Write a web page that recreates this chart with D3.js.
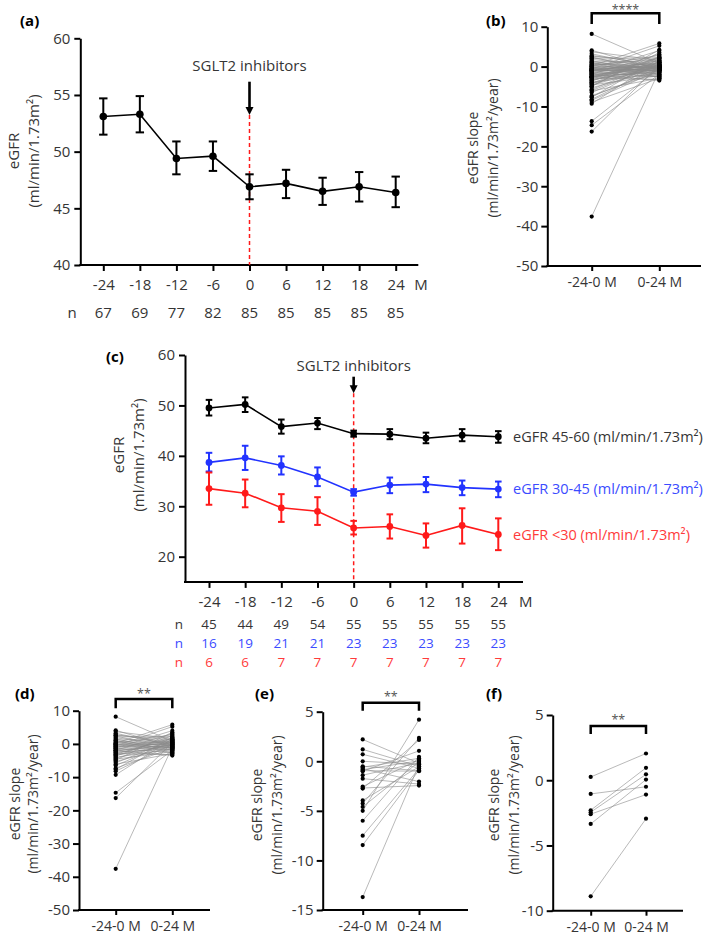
<!DOCTYPE html>
<html>
<head>
<meta charset="utf-8">
<script src="https://cdn.jsdelivr.net/npm/d3@7"></script>
<style>
  body { margin: 0; background: #fff; }
  svg { display: block; font-family: "Open Sans", "Noto Sans", sans-serif; }
</style>
</head>
<body>
<script>
// ---------------- DATA ----------------
const months = [-24, -18, -12, -6, 0, 6, 12, 18, 24];

// Panel (a): all patients
const aMean  = [53.1, 53.3, 49.4, 49.6, 46.9, 47.2, 46.5, 46.9, 46.4];
const aLower = [51.5, 51.7, 48.0, 48.3, 45.8, 45.9, 45.3, 45.6, 45.1];
const aUpper = [54.7, 54.9, 50.9, 50.9, 48.0, 48.4, 47.7, 48.2, 47.8];
const aN     = [67, 69, 77, 82, 85, 85, 85, 85, 85];

// Panel (c): by baseline eGFR group
const g45Mean  = [49.5, 50.2, 45.8, 46.5, 44.4, 44.3, 43.5, 44.1, 43.8];
const g45Lower = [48.0, 48.7, 44.4, 45.3, 43.8, 43.3, 42.5, 42.9, 42.6];
const g45Upper = [51.1, 51.6, 47.2, 47.5, 45.0, 45.3, 44.6, 45.3, 44.9];
const g30Mean  = [38.7, 39.6, 38.1, 35.8, 32.8, 34.2, 34.4, 33.7, 33.4];
const g30Lower = [36.9, 37.2, 36.3, 34.0, 32.1, 32.6, 32.8, 32.2, 31.8];
const g30Upper = [40.6, 42.0, 39.9, 37.7, 33.4, 35.7, 35.8, 35.1, 34.9];
const gLtMean  = [33.5, 32.6, 29.7, 29.0, 25.7, 26.0, 24.2, 26.2, 24.4];
const gLtLower = [30.3, 29.8, 26.9, 26.3, 24.4, 23.6, 21.8, 22.6, 21.3];
const gLtUpper = [36.7, 35.3, 32.4, 31.8, 27.1, 28.4, 26.6, 29.6, 27.6];
const n45 = [45, 44, 49, 54, 55, 55, 55, 55, 55];
const n30 = [16, 19, 21, 21, 23, 23, 23, 23, 23];
const nLt = [6, 6, 7, 7, 7, 7, 7, 7, 7];
const groupLabels = ["eGFR 45-60 (ml/min/1.73m²)", "eGFR 30-45 (ml/min/1.73m²)", "eGFR <30 (ml/min/1.73m²)"];

// Slope panels: periods
const periods = ["-24-0 M", "0-24 M"];

// (d) eGFR 45-60 group, slope before / after (paired by index)
const dBefore = [8.2, 4.1, 3.7, 3.2, 2.8, 2.4, 2.1, 1.8, 1.5, 1.2, 0.9, 0.6, 0.4, 0.1, -0.1, -0.3, -0.5, -0.7, -0.9, -1.1,
  -1.3, -1.5, -1.7, -1.9, -2.1, -2.3, -2.5, -2.7, -2.9, -3.1, -3.4, -3.7, -4.0, -4.3, -4.6, -4.9, -5.3, -5.7, -6.1, -6.5,
  -7.3, -7.7, -8.2, -9.3, -14.7, -16.3, -37.6, 0.2, -0.6, -1.2, -2.0, -0.2, 1.0, 2.6, -3.3];
const dAfter = [0.8, -0.9, 1.6, -0.4, 0.3, -1.5, 2.2, 0.0, -2.1, 1.2, -0.6, 0.5, -1.2, 2.8, -0.2, 0.9, -1.8, 0.2, -0.7, 1.4,
  -2.6, 0.6, -1.0, 3.1, -0.3, 1.0, -1.4, 0.4, -3.2, 1.8, -0.5, 2.5, -1.6, 0.1, -2.3, 3.5, -0.8, 1.1, -2.9, 0.7,
  -1.3, 2.0, -0.1, 1.5, -1.9, 0.35, -0.95, 5.8, 5.2, 4.0, -3.5, -1.1, -2.7, 1.3, -0.15];

// (e) eGFR 30-45 group
const eBefore = [2.2, 1.2, 0.7, 0.0, -0.5, -0.6, -0.75, -0.85, -0.95, -1.0, -1.4, -1.75, -2.55, -2.7, -2.75, -3.95,
  -4.25, -4.6, -5.0, -6.0, -7.5, -8.45, -13.7];
const eAfter = [-0.2, -0.5, -0.7, -0.3, -0.95, 0.3, -2.05, 0.05, -1.0, 1.05, -0.15, -2.3, 0.15, -2.45, 2.15, -0.55,
  2.35, -0.05, 4.2, 0.45, -0.75, -0.9, -0.35];

// (f) eGFR <30 group
const fBefore = [0.25, -1.05, -2.3, -2.45, -2.6, -3.35, -8.9];
const fAfter  = [2.05, -0.5, 0.95, 0.45, -1.1, 0.05, -2.95];

// (b) all patients = union of groups
const bBefore = dBefore.concat(eBefore, fBefore);
const bAfter  = dAfter.concat(eAfter, fAfter);

const sigB = "****", sigD = "**", sigE = "**", sigF = "**";

// ---------------- DRAWING ----------------
const TXT = "#353535";
const BLUE = "#2233ff", BLUE_T = "#3b4cff";
const RED = "#ff1a1a", RED_T = "#ff3b3b";
const fmt = d => String(d);   // plain hyphen-minus as in the original

const svg = d3.select("body").append("svg").attr("width", 709).attr("height", 937);

function styleAxis(g, fs) {
  g.selectAll("path.domain").attr("stroke", "#000").attr("stroke-width", 2);
  g.selectAll(".tick line").attr("stroke", "#000").attr("stroke-width", 2);
  g.selectAll(".tick text").attr("fill", TXT).attr("font-size", fs).attr("font-family", "Open Sans");
}

function panelLabel(txt, x, y) {
  svg.append("text").attr("x", x).attr("y", y).attr("font-size", 15).attr("font-weight", 700)
    .attr("fill", "#000").text(txt);
}

function yLabel(lines, cx, cy, gap, fs) {
  const t = svg.append("g").attr("transform", `translate(${cx},${cy}) rotate(-90)`);
  lines.forEach((s, i) => {
    t.append("text").attr("x", 0).attr("y", i * gap).attr("dy", "0.35em")
      .attr("text-anchor", "middle").attr("font-size", fs).attr("fill", TXT).text(s);
  });
}

function arrowDown(x, y0, y1) {
  svg.append("line").attr("x1", x).attr("x2", x).attr("y1", y0).attr("y2", y1 - 6)
    .attr("stroke", "#000").attr("stroke-width", 2.6);
  svg.append("path").attr("d", `M${x - 4},${y1 - 8} L${x + 4},${y1 - 8} L${x},${y1} Z`).attr("fill", "#000");
}

// ---- generic time-course panel
function timePanel(cfg) {
  const x = d3.scaleLinear().domain([-24, 24]).range(cfg.xRange);
  const y = d3.scaleLinear().domain(cfg.yDomain).range(cfg.yRange);
  const base = y(cfg.yDomain[0]);

  const gy = svg.append("g").attr("transform", `translate(${cfg.axisX},0)`)
    .call(d3.axisLeft(y).tickValues(cfg.yTicks).tickSize(6).tickPadding(4).tickSizeOuter(0).tickFormat(fmt));
  styleAxis(gy, 15);
  const gx = svg.append("g").attr("transform", `translate(0,${base})`)
    .call(d3.axisBottom(x).tickValues(months).tickSize(6).tickPadding(8).tickFormat(fmt));
  gx.select("path.domain").remove();
  styleAxis(gx, 15);
  svg.append("line").attr("x1", cfg.axisX - 1).attr("x2", cfg.xEnd).attr("y1", base).attr("y2", base)
    .attr("stroke", "#000").attr("stroke-width", 2);
  svg.append("text").attr("x", cfg.xEnd - 4).attr("y", base + 20).attr("dy", "0.35em")
    .attr("font-size", 15).attr("fill", TXT).text("M");

  const x0 = x(0);
  svg.append("line").attr("x1", x0).attr("x2", x0).attr("y1", cfg.arrow[1]).attr("y2", base)
    .attr("stroke", RED).attr("stroke-width", 1.5).attr("stroke-dasharray", "4,3");
  arrowDown(x0, cfg.arrow[0], cfg.arrow[1]);
  svg.append("text").attr("x", x0).attr("y", cfg.textY).attr("text-anchor", "middle")
    .attr("font-size", 15).attr("fill", TXT).text("SGLT2 inhibitors");

  cfg.series.forEach(s => {
    const pts = months.map((m, i) => ({ m, v: s.mean[i], lo: s.lower[i], hi: s.upper[i] }));
    svg.append("path").datum(pts)
      .attr("d", d3.line().x(d => x(d.m)).y(d => y(d.v)))
      .attr("fill", "none").attr("stroke", s.color).attr("stroke-width", 1.6);
    const eb = svg.append("g").attr("stroke", s.color).attr("stroke-width", 2);
    pts.forEach(d => {
      eb.append("line").attr("x1", x(d.m)).attr("x2", x(d.m)).attr("y1", y(d.lo)).attr("y2", y(d.hi));
      eb.append("line").attr("x1", x(d.m) - cfg.cap).attr("x2", x(d.m) + cfg.cap).attr("y1", y(d.lo)).attr("y2", y(d.lo));
      eb.append("line").attr("x1", x(d.m) - cfg.cap).attr("x2", x(d.m) + cfg.cap).attr("y1", y(d.hi)).attr("y2", y(d.hi));
    });
    svg.append("g").selectAll("circle").data(pts).join("circle")
      .attr("cx", d => x(d.m)).attr("cy", d => y(d.v)).attr("r", cfg.r).attr("fill", s.color);
    if (s.label) {
      svg.append("text").attr("x", cfg.legendX).attr("y", y(s.mean[8])).attr("dy", "0.35em")
        .attr("font-size", 14.5).attr("fill", s.textColor).text(s.label);
    }
  });

  cfg.nRows.forEach(row => {
    svg.append("text").attr("x", cfg.nX).attr("y", row.y).attr("dy", "0.35em").attr("text-anchor", "middle")
      .attr("font-size", cfg.nFs).attr("fill", row.color).text("n");
    svg.append("g").selectAll("text").data(row.vals).join("text")
      .attr("x", (d, i) => x(months[i])).attr("y", row.y).attr("dy", "0.35em").attr("text-anchor", "middle")
      .attr("font-size", cfg.nFs).attr("fill", row.color).text(d => d);
  });
}

// ---- slope panel
function slopePanel(cfg) {
  const x = d3.scalePoint().domain(periods).range(cfg.cats);
  const y = d3.scaleLinear().domain(cfg.yDomain).range(cfg.yRange);
  const base = y(cfg.yDomain[0]);

  const gy = svg.append("g").attr("transform", `translate(${cfg.axisX},0)`)
    .call(d3.axisLeft(y).tickValues(cfg.yTicks).tickSize(6).tickPadding(3).tickSizeOuter(0).tickFormat(fmt));
  styleAxis(gy, 15);
  const gx = svg.append("g").attr("transform", `translate(0,${base})`)
    .call(d3.axisBottom(x).tickSize(5).tickPadding(6));
  gx.select("path.domain").remove();
  styleAxis(gx, 14);
  svg.append("line").attr("x1", cfg.axisX - 1).attr("x2", cfg.xEnd).attr("y1", base).attr("y2", base)
    .attr("stroke", "#000").attr("stroke-width", 2);

  const pairs = cfg.before.map((b, i) => [b, cfg.after[i]]);
  svg.append("g").selectAll("line").data(pairs).join("line")
    .attr("x1", x(periods[0])).attr("x2", x(periods[1]))
    .attr("y1", d => y(d[0])).attr("y2", d => y(d[1]))
    .attr("stroke", "#8a8a8a").attr("stroke-width", 0.8).attr("stroke-opacity", 0.75);
  const dots = svg.append("g").attr("fill", "#000");
  pairs.forEach(d => {
    dots.append("circle").attr("cx", x(periods[0])).attr("cy", y(d[0])).attr("r", 2.1);
    dots.append("circle").attr("cx", x(periods[1])).attr("cy", y(d[1])).attr("r", 2.1);
  });

  const [bx0, bx1] = [x(periods[0]), x(periods[1])];
  svg.append("path").attr("d", `M${bx0},${cfg.br[1]} L${bx0},${cfg.br[0]} L${bx1},${cfg.br[0]} L${bx1},${cfg.br[1]}`)
    .attr("fill", "none").attr("stroke", "#000").attr("stroke-width", 2.5);
  svg.append("text").attr("x", (bx0 + bx1) / 2).attr("y", cfg.starY).attr("text-anchor", "middle")
    .attr("font-size", 12.5).attr("fill", "#555").text(cfg.sig);
}

// ===== Panel (a)
panelLabel("(a)", 20, 26);
timePanel({
  axisX: 80.3, xEnd: 418.3, xRange: [103.3, 395.7], yDomain: [40, 60], yRange: [265, 38.3],
  yTicks: [40, 45, 50, 55, 60], arrow: [81.7, 115], textY: 71, cap: 4.2, r: 3.8, nFs: 15,
  series: [{ mean: aMean, lower: aLower, upper: aUpper, color: "#000" }],
  nX: 72, nRows: [{ y: 313, vals: aN, color: TXT }]
});
yLabel(["eGFR", "(ml/min/1.73m²)"], 14, 151, 20, 15);

// ===== Panel (c)
panelLabel("(c)", 106, 362);
timePanel({
  axisX: 185, xEnd: 523, xRange: [209, 498.3], yDomain: [15, 60], yRange: [581.9, 355],
  yTicks: [20, 30, 40, 50, 60], arrow: [376.7, 393.3], textY: 370.5, cap: 3.3, r: 3.4, legendX: 513, nFs: 13.5,
  series: [
    { mean: g45Mean, lower: g45Lower, upper: g45Upper, color: "#000", textColor: TXT, label: groupLabels[0] },
    { mean: g30Mean, lower: g30Lower, upper: g30Upper, color: BLUE, textColor: BLUE_T, label: groupLabels[1] },
    { mean: gLtMean, lower: gLtLower, upper: gLtUpper, color: RED, textColor: RED_T, label: groupLabels[2] }
  ],
  nX: 179, nRows: [
    { y: 624, vals: n45, color: TXT },
    { y: 643, vals: n30, color: BLUE_T },
    { y: 662, vals: nLt, color: RED_T }
  ]
});
yLabel(["eGFR", "(ml/min/1.73m²)"], 119, 455, 19.5, 15);

// ===== Panel (b)
panelLabel("(b)", 486, 26);
slopePanel({
  axisX: 547.3, xEnd: 701, cats: [591.7, 659.3], yDomain: [-50, 10], yRange: [266, 26.7],
  yTicks: [-50, -40, -30, -20, -10, 0, 10], before: bBefore, after: bAfter,
  br: [13.3, 24], starY: 14, sig: sigB
});
yLabel(["eGFR slope", "(ml/min/1.73m²/year)"], 473, 148, 20.5, 14);

// ===== Panel (d)
panelLabel("(d)", 15, 699);
slopePanel({
  axisX: 79, xEnd: 210, cats: [115.7, 172.3], yDomain: [-50, 10], yRange: [910, 710.7],
  yTicks: [-50, -40, -30, -20, -10, 0, 10], before: dBefore, after: dAfter,
  br: [699, 708.3], starY: 697.5, sig: sigD
});
yLabel(["eGFR slope", "(ml/min/1.73m²/year)"], 15, 804, 18.5, 14);

// ===== Panel (e)
panelLabel("(e)", 255, 699);
slopePanel({
  axisX: 322.7, xEnd: 468, cats: [362.7, 419], yDomain: [-15, 5], yRange: [910, 711.7],
  yTicks: [-15, -10, -5, 0, 5], before: eBefore, after: eAfter,
  br: [702.7, 710.7], starY: 701, sig: sigE
});
yLabel(["eGFR slope", "(ml/min/1.73m²/year)"], 257.5, 805, 20, 14);

// ===== Panel (f)
panelLabel("(f)", 486, 699);
slopePanel({
  axisX: 552.7, xEnd: 683, cats: [590.7, 646], yDomain: [-10, 5], yRange: [910.7, 715],
  yTicks: [-10, -5, 0, 5], before: fBefore, after: fAfter,
  br: [726, 734], starY: 724, sig: sigF
});
yLabel(["eGFR slope", "(ml/min/1.73m²/year)"], 494, 805, 20, 14);
</script>
</body>
</html>
